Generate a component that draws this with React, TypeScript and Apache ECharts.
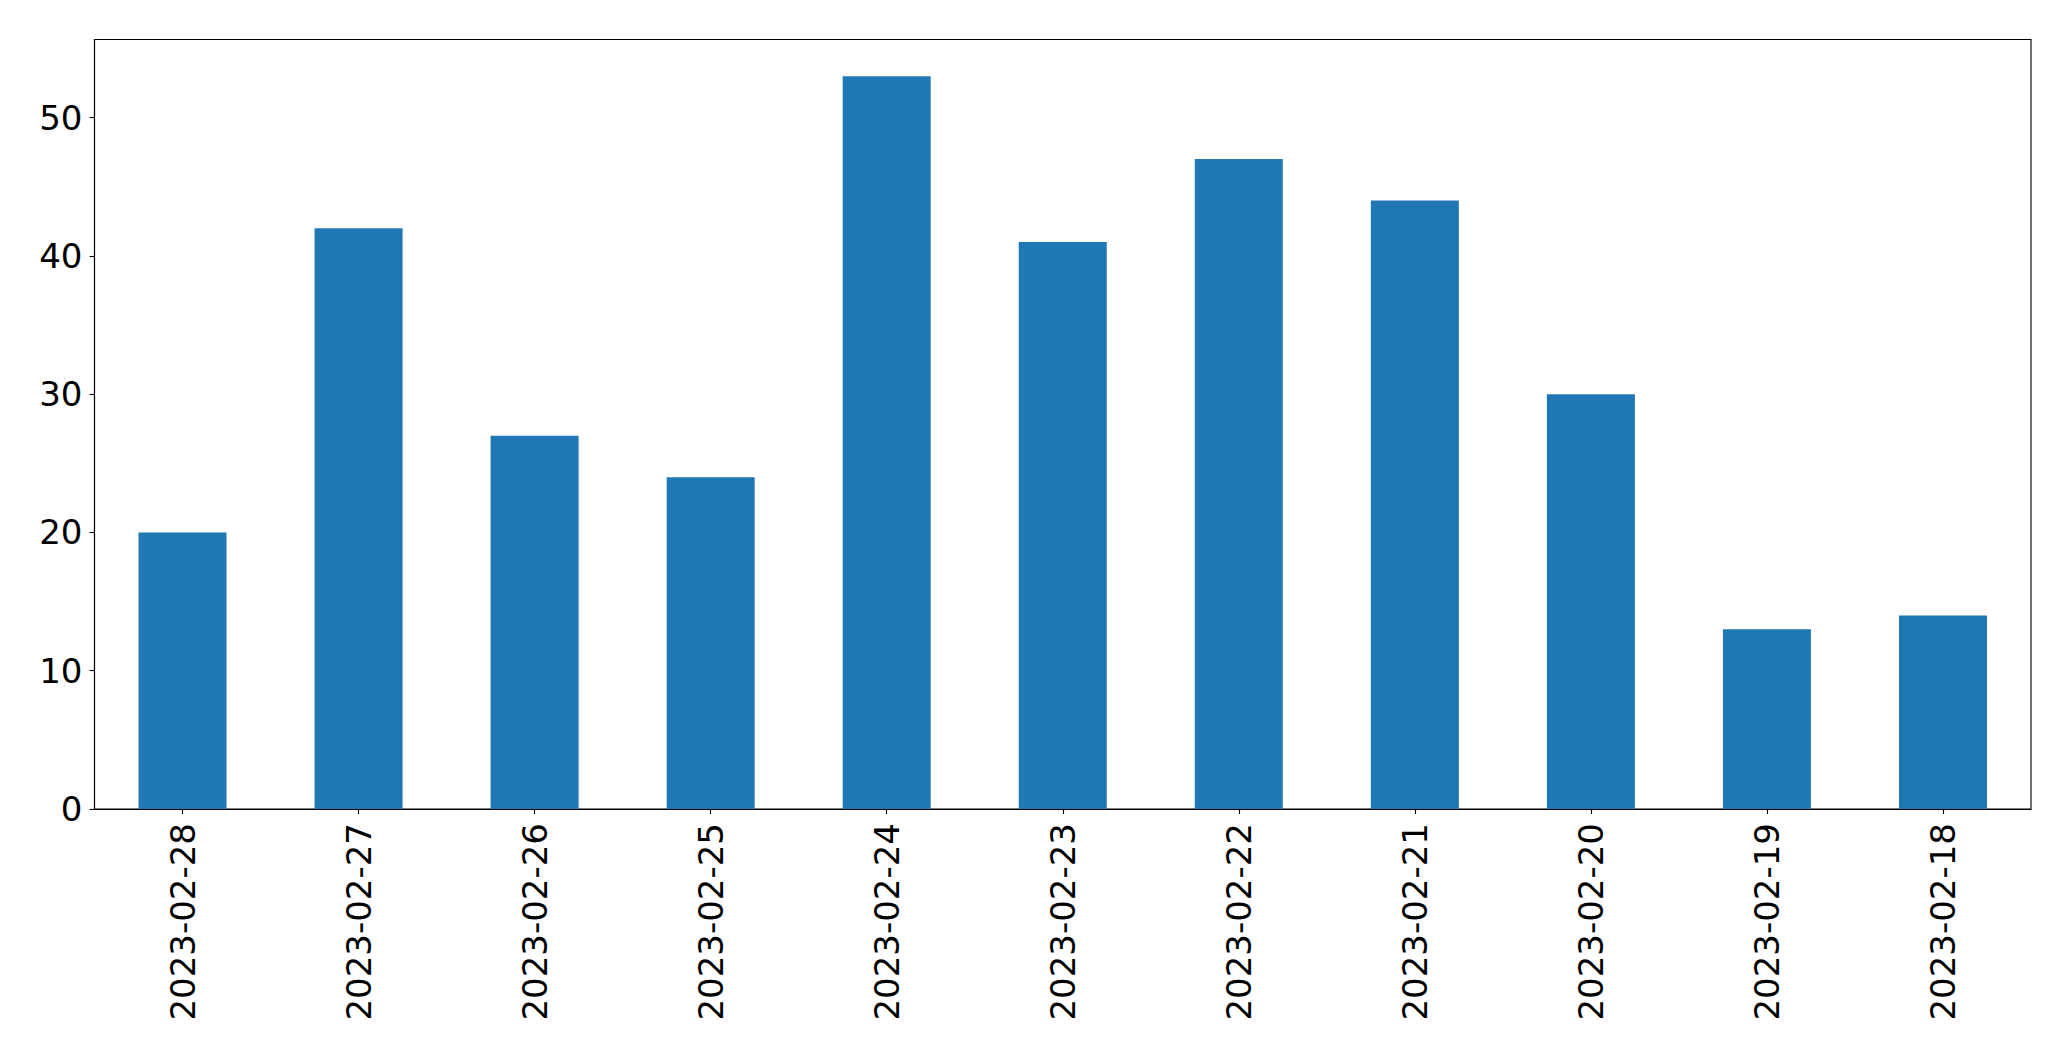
import React, { useEffect, useRef } from "react";
import * as echarts from "echarts";

const categories = [
  "2023-02-28", "2023-02-27", "2023-02-26", "2023-02-25", "2023-02-24",
  "2023-02-23", "2023-02-22", "2023-02-21", "2023-02-20", "2023-02-19", "2023-02-18",
];
const values = [20, 42, 27, 24, 53, 41, 47, 44, 30, 13, 14];
const yTicks = [0, 10, 20, 30, 40, 50];

export default function App() {
  const ref = useRef<HTMLDivElement>(null);
  useEffect(() => {
    if (!ref.current) return;
    const chart = echarts.init(ref.current, undefined, { renderer: "svg" });
    const font = "DejaVu Sans";
    chart.setOption({
      animation: false,
      backgroundColor: "#ffffff",
      grid: {
        left: 94.5,
        right: 40,
        top: 39.5,
        bottom: 252,
        show: true,
        borderColor: "#000000",
        borderWidth: 1.1,
        backgroundColor: "transparent",
      },
      xAxis: {
        type: "category",
        data: categories,
        boundaryGap: true,
        axisLine: { show: true, lineStyle: { color: "#000", width: 1.1 } },
        axisTick: { show: true, alignWithLabel: true, length: 5, lineStyle: { color: "#000", width: 1.1 } },
        axisLabel: {
          rotate: 90,
          interval: 0,
          margin: 14,
          color: "#000",
          fontFamily: font,
          fontSize: 34,
        },
        splitLine: { show: false },
      },
      yAxis: {
        type: "value",
        min: 0,
        max: 55.65,
        interval: 10,
        axisLine: { show: true, lineStyle: { color: "#000", width: 1.1 } },
        axisTick: { show: true, length: 5, customValues: yTicks, lineStyle: { color: "#000", width: 1.1 } },
        axisLabel: {
          customValues: yTicks,
          margin: 12,
          color: "#000",
          fontFamily: font,
          fontSize: 34,
        },
        splitLine: { show: false },
      },
      series: [
        {
          type: "bar",
          data: values,
          barWidth: "50%",
          itemStyle: { color: "#1f77b4" },
        },
      ],
    });
    return () => chart.dispose();
  }, []);
  return (
    <div
      ref={ref}
      style={{ position: "fixed", left: 0, top: 0, width: 2071, height: 1061, background: "#fff" }}
    />
  );
}
